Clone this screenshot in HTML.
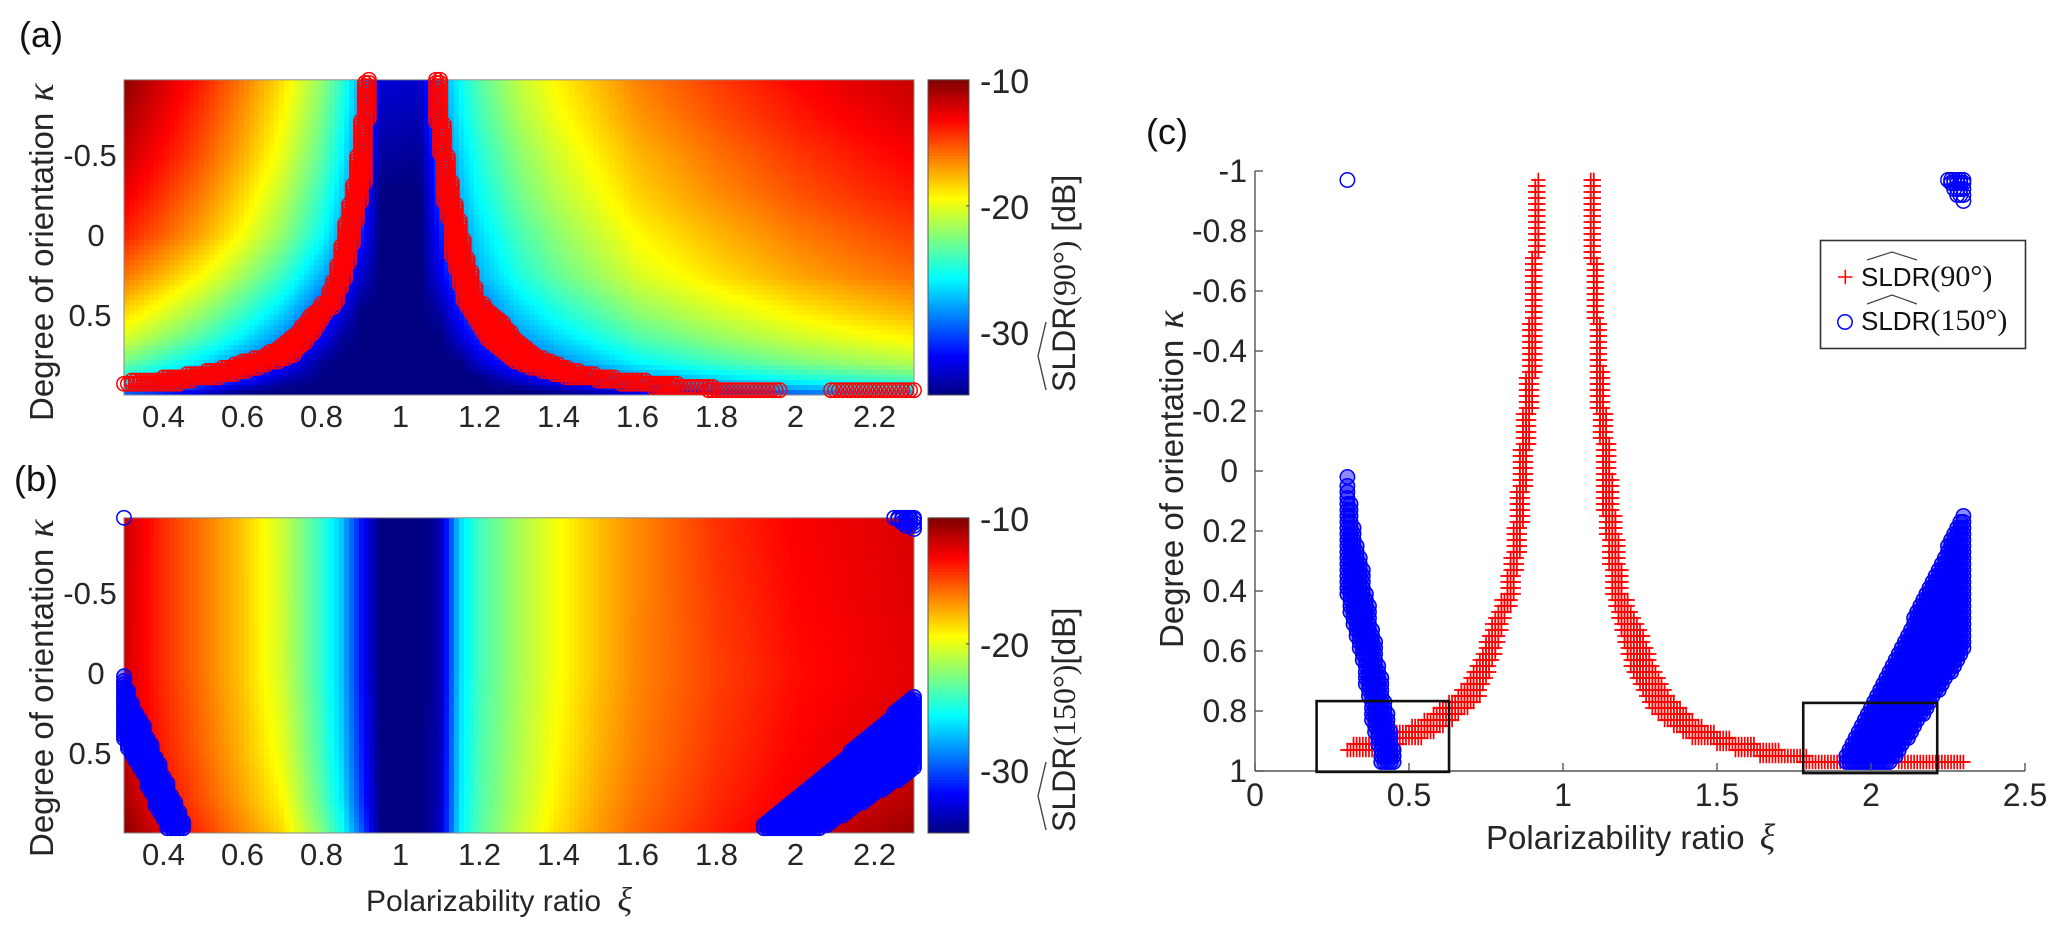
<!DOCTYPE html>
<html>
<head>
<meta charset="utf-8">
<title>SLDR heatmaps and scatter</title>
<style>
html,body{margin:0;padding:0;background:#fff}
svg{display:block}
text{font-family:"Liberation Sans",sans-serif;fill:#262626}
.serif{font-family:"Liberation Serif",serif}
.greek{font-family:"Liberation Serif",serif;font-style:italic}
</style>
</head>
<body>
<svg id="fig" xmlns="http://www.w3.org/2000/svg" width="2067" height="935" viewBox="0 0 2067 935">
  <g id="panelA"></g>
  <g id="panelB"></g>
  <g id="panelC"></g>

  <text x="19" y="47" font-size="36" style="fill:#111">(a)</text>
  <text x="14" y="491" font-size="36" style="fill:#111">(b)</text>
  <text x="1146" y="144" font-size="36" style="fill:#111">(c)</text>

  <text transform="translate(53,421) rotate(-90)" font-size="33">Degree of orientation <tspan class="greek" font-size="38" dx="2">κ</tspan></text>
  <text transform="translate(53,857) rotate(-90)" font-size="33">Degree of orientation <tspan class="greek" font-size="38" dx="2">κ</tspan></text>
  <text x="366" y="911" font-size="30">Polarizability ratio <tspan class="greek" font-size="34" dx="8">ξ</tspan></text>
  <text x="1486" y="849" font-size="33">Polarizability ratio <tspan class="greek" font-size="36" dx="6">ξ</tspan></text>
  <text transform="translate(1183,648) rotate(-90)" font-size="33">Degree of orientation <tspan class="greek" font-size="38" dx="2">κ</tspan></text>

  <g transform="translate(1075,392) rotate(-90)">
    <text font-size="32" x="0" y="0">SLDR<tspan class="serif">(90°)</tspan> [dB]</text>
    <polyline points="2,-29 36,-37 70,-29" fill="none" stroke="#444" stroke-width="1.4"/>
  </g>
  <g transform="translate(1075,832) rotate(-90)">
    <text font-size="32" x="0" y="0">SLDR<tspan class="serif">(150°)</tspan>[dB]</text>
    <polyline points="2,-29 36,-37 70,-29" fill="none" stroke="#444" stroke-width="1.4"/>
  </g>

  <g id="legend">
    <rect x="1820.5" y="240.5" width="205" height="108" fill="#fff" stroke="#333" stroke-width="1.6"/>
    <path d="M1838 277H1852.6M1845.3 269.7V284.3" stroke="#f00" stroke-width="1.5" fill="none"/>
    <circle cx="1845" cy="322" r="7.2" fill="none" stroke="#00f" stroke-width="1.5"/>
    <text x="1861" y="286" font-size="26" style="fill:#111">SLDR<tspan class="serif" font-size="30">(90°)</tspan></text>
    <polyline points="1867,260 1892,252 1917,260" fill="none" stroke="#444" stroke-width="1.2"/>
    <text x="1861" y="330" font-size="26" style="fill:#111">SLDR<tspan class="serif" font-size="30">(150°)</tspan></text>
    <polyline points="1867,304 1892,295 1917,304" fill="none" stroke="#444" stroke-width="1.2"/>
  </g>
</svg>

<script>
// ---------- Tick labels ----------
const heatXTicks = [0.4, 0.6, 0.8, 1, 1.2, 1.4, 1.6, 1.8, 2, 2.2];
const heatYTicks = [-0.5, 0, 0.5];
const colorbarTicks = [-10, -20, -30];
const scatterXTicks = [0, 0.5, 1, 1.5, 2, 2.5];
const scatterYTicks = [-1, -0.8, -0.6, -0.4, -0.2, 0, 0.2, 0.4, 0.6, 0.8, 1];

// ---------- Heatmap (a): SLDR(90) in dB ----------
const heatXi = [0.3, 0.4, 0.5, 0.6, 0.7, 0.8, 0.85, 0.9, 0.95, 1.05, 1.1, 1.15, 1.2, 1.3, 1.4, 1.5, 1.6, 1.8, 2.0, 2.15, 2.3];
const heatAKappa = [-0.97, -0.75, -0.5, -0.25, 0, 0.25, 0.5, 0.65, 0.8, 0.9, 0.97, 1.0];
const heatAValues = [
 [-10.4,-12.1,-13.9,-16.1,-18.6,-22.0,-24.4,-27.6,-32.9,-33.2,-28.3,-25.5,-23.5,-20.9,-19.1,-17.7,-16.3,-14.6,-13.2,-12.4,-11.7],
 [-11.0,-12.7,-14.5,-16.7,-19.2,-22.6,-25.0,-28.2,-33.5,-33.7,-28.8,-26.0,-24.0,-21.4,-19.6,-18.2,-16.8,-15.1,-13.7,-12.9,-12.2],
 [-11.7,-13.4,-15.2,-17.4,-19.9,-23.3,-25.7,-28.9,-34.2,-34.5,-29.6,-26.8,-24.8,-22.2,-20.4,-19.0,-17.6,-15.9,-14.5,-13.7,-13.0],
 [-12.7,-14.4,-16.2,-18.4,-20.9,-24.3,-26.7,-29.9,-35,-35,-30.3,-27.5,-25.5,-22.9,-21.1,-19.7,-18.3,-16.6,-15.2,-14.4,-13.7],
 [-13.8,-15.5,-17.3,-19.5,-22.0,-25.4,-27.8,-31.0,-35,-35,-31.3,-28.5,-26.5,-23.9,-22.1,-20.7,-19.3,-17.6,-16.2,-15.4,-14.7],
 [-15.9,-17.6,-19.4,-21.6,-24.1,-27.5,-29.9,-33.1,-35,-35,-32.3,-29.5,-27.5,-24.9,-23.1,-21.7,-20.3,-18.6,-17.2,-16.4,-15.7],
 [-18.6,-20.3,-22.1,-24.3,-26.8,-30.2,-32.6,-35,-35,-35,-34.3,-31.5,-29.5,-26.9,-25.1,-23.7,-22.3,-20.6,-19.2,-18.4,-17.7],
 [-20.4,-22.1,-23.9,-26.1,-28.6,-32.0,-34.4,-35,-35,-35,-35,-33,-31,-28.4,-26.6,-25.2,-23.8,-22.1,-20.7,-19.9,-19.2],
 [-22.9,-24.6,-26.4,-28.6,-31.1,-34.5,-35,-35,-35,-35,-35,-35,-33,-30.4,-28.6,-27.2,-25.8,-24.1,-22.7,-21.9,-21.2],
 [-25.4,-27.1,-28.9,-31.1,-33.6,-35,-35,-35,-35,-35,-35,-35,-35,-32.9,-31.1,-29.7,-28.3,-26.6,-25.2,-24.4,-23.7],
 [-28.4,-30.1,-31.9,-34.1,-35,-35,-35,-35,-35,-35,-35,-35,-35,-35,-34.1,-32.7,-31.3,-29.6,-28.2,-27.4,-26.7],
 [-30.4,-32.1,-33.9,-35,-35,-35,-35,-35,-35,-35,-35,-35,-35,-35,-35,-34.7,-33.3,-31.6,-30.2,-29.4,-28.7]
];

// ---------- Heatmap (b): SLDR(150) in dB ----------
const heatBKappa = [-0.97, 0, 0.5, 0.8, 1.0];
const heatBValues = [
 [-11.8,-14.2,-16,-18,-20.6,-24.4,-27,-31.5,-35,-35,-34,-26.5,-24,-21.5,-19.5,-17.8,-16.5,-14.3,-13,-12.6,-12.2],
 [-12,-14.2,-16,-18,-20.5,-24.4,-27,-31.5,-35,-35,-34,-26.5,-24,-21.5,-19.5,-17.8,-16.4,-14.7,-13.4,-12.9,-12.5],
 [-11.5,-13.8,-15.6,-17.6,-19.9,-24,-26.6,-31,-35,-35,-33.8,-26.3,-23.8,-21.3,-19.2,-17.5,-16.2,-14.4,-13.1,-12.5,-12.0],
 [-11,-13.2,-15.1,-17.1,-19.2,-23.4,-26,-30.5,-35,-35,-33.7,-26.2,-23.7,-21.1,-18.9,-17.2,-15.9,-14.1,-12.8,-12,-11.3],
 [-10.2,-12.4,-14.4,-16.4,-18.4,-22.5,-25,-29.5,-35,-35,-33.5,-26,-23.5,-20.8,-18.5,-16.9,-15.6,-13.8,-12.4,-11.4,-10.6]
];

// ---------- Marker series: each row is a kappa level and a xi range on the 0.01 xi grid ----------
const redLeftKappa = [
 -0.97,-0.95,-0.93,-0.91,-0.89,-0.87,-0.85,-0.83,-0.81,-0.79,-0.77,-0.75,-0.73,
 -0.71,-0.69,-0.67,-0.65,-0.63,-0.61,-0.59,-0.57,-0.55,-0.53,-0.51,
 -0.49,-0.47,-0.45,-0.43,-0.41,-0.39,-0.37,-0.35,-0.33,
 -0.31,-0.29,-0.27,-0.25,-0.23,-0.21,-0.19,-0.17,-0.15,-0.13,-0.11,-0.09,
 -0.07,-0.05,-0.03,-0.01,0.01,0.03,0.05,0.07,0.09,0.11,0.13,0.15,0.17,
 0.19,0.21,0.23,0.25,0.27,0.29,0.31,0.33,0.35,0.37,0.39,0.41,0.43,0.45,
 0.47,0.49,0.51,0.53,0.55,0.57,0.59,0.61,0.63,0.65,0.67,0.69,0.71,0.73,0.75,0.77,0.79,0.81,0.83,0.85,0.87,0.89,0.91,0.93
];
const redLeftLo = [
 0.92,0.91,0.91,0.91,0.91,0.91,0.91,0.91,0.91,0.91,0.91,0.91,0.91,
 0.90,0.90,0.90,0.90,0.90,0.90,0.90,0.90,0.90,0.90,0.90,
 0.89,0.89,0.89,0.89,0.89,0.89,0.89,0.89,0.89,
 0.88,0.88,0.88,0.88,0.88,0.88,0.87,0.87,0.87,0.87,0.87,0.87,
 0.86,0.86,0.86,0.86,0.86,0.86,0.86,0.85,0.85,0.85,0.85,0.85,0.85,
 0.84,0.84,0.84,0.84,0.84,0.83,0.83,0.83,0.82,0.82,0.82,0.82,0.80,0.80,
 0.79,0.78,0.77,0.77,0.76,0.75,0.75,0.74,0.73,0.72,0.71,0.70,0.69,0.67,0.66,0.63,0.60,0.58,0.55,0.51,0.46,0.40,0.32,0.30
];
const redLeftHi = [
 0.92,0.92,0.92,0.92,0.92,0.92,0.92,0.92,0.92,0.92,0.92,0.92,0.92,
 0.91,0.91,0.91,0.91,0.91,0.91,0.91,0.91,0.91,0.91,0.91,
 0.91,0.91,0.91,0.91,0.91,0.91,0.91,0.91,0.91,
 0.90,0.90,0.90,0.90,0.90,0.90,0.89,0.89,0.89,0.89,0.89,0.89,
 0.88,0.88,0.88,0.88,0.88,0.88,0.88,0.87,0.87,0.87,0.87,0.87,0.87,
 0.86,0.86,0.86,0.86,0.86,0.85,0.85,0.85,0.84,0.84,0.84,0.84,0.83,0.83,
 0.81,0.81,0.80,0.80,0.79,0.79,0.78,0.78,0.77,0.76,0.76,0.75,0.74,0.73,0.73,0.71,0.69,0.66,0.64,0.61,0.58,0.54,0.47,0.44
];
const redRightKappa = [
 -0.97,-0.95,-0.93,-0.91,-0.89,-0.87,-0.85,-0.83,-0.81,-0.79,-0.77,-0.75,-0.73,-0.71,
 -0.69,-0.67,-0.65,-0.63,-0.61,-0.59,-0.57,-0.55,-0.53,-0.51,
 -0.49,-0.47,-0.45,-0.43,-0.41,-0.39,-0.37,-0.35,
 -0.33,-0.31,-0.29,-0.27,-0.25,-0.23,-0.21,
 -0.19,-0.17,-0.15,-0.13,-0.11,
 -0.09,-0.07,-0.05,-0.03,-0.01,0.01,
 0.03,0.05,0.07,0.09,0.11,0.13,
 0.15,0.17,0.19,0.21,
 0.23,0.25,0.27,0.29,0.31,
 0.33,0.35,0.37,0.39,0.41,
 0.43,0.45,0.47,0.49,
 0.51,0.53,0.55,0.57,0.59,0.61,0.63,0.65,0.67,0.69,0.71,0.73,0.75,0.77,0.79,0.81,0.83,0.85,0.87,0.89,0.91,0.93,0.95,0.97,0.97
];
const redRightLo = [
 1.09,1.09,1.09,1.09,1.09,1.09,1.09,1.09,1.09,1.09,1.09,1.09,1.09,1.09,
 1.10,1.10,1.10,1.10,1.10,1.10,1.10,1.10,1.10,1.10,
 1.11,1.11,1.11,1.11,1.11,1.11,1.11,1.11,
 1.11,1.11,1.11,1.11,1.11,1.11,1.11,
 1.12,1.12,1.12,1.12,1.12,
 1.13,1.13,1.13,1.13,1.13,1.13,
 1.13,1.13,1.13,1.13,1.13,1.13,
 1.14,1.14,1.14,1.14,
 1.15,1.15,1.15,1.15,1.15,
 1.16,1.16,1.16,1.16,1.16,
 1.17,1.17,1.18,1.18,
 1.19,1.19,1.20,1.20,1.21,1.21,1.22,1.22,1.23,1.24,1.25,1.26,1.27,1.28,1.29,1.31,1.33,1.36,1.39,1.42,1.50,1.56,1.64,1.78,2.09
];
const redRightHi = [
 1.10,1.10,1.10,1.10,1.10,1.10,1.10,1.10,1.10,1.10,1.10,1.10,1.10,1.10,
 1.11,1.11,1.11,1.11,1.11,1.11,1.11,1.11,1.11,1.11,
 1.12,1.12,1.12,1.12,1.12,1.12,1.12,1.12,
 1.13,1.13,1.13,1.13,1.13,1.13,1.13,
 1.14,1.14,1.14,1.14,1.14,
 1.15,1.15,1.15,1.15,1.15,1.15,
 1.16,1.16,1.16,1.16,1.16,1.16,
 1.17,1.17,1.17,1.17,
 1.18,1.18,1.18,1.18,1.18,
 1.19,1.19,1.19,1.19,1.19,
 1.21,1.21,1.22,1.23,
 1.24,1.25,1.26,1.26,1.27,1.28,1.28,1.29,1.30,1.31,1.32,1.33,1.34,1.36,1.38,1.40,1.42,1.45,1.49,1.54,1.62,1.70,1.79,1.96,2.30
];
const blueCornerKappa = [-0.97, -0.97, -0.96, -0.94, -0.92, -0.90];
const blueCornerLo = [0.30, 2.25, 2.26, 2.27, 2.28, 2.30];
const blueCornerHi = [0.30, 2.30, 2.30, 2.30, 2.30, 2.30];
const blueLeftKappa = [
 0.02,0.05,0.07,0.09,0.11,0.13,0.15,0.17,0.19,0.21,0.23,0.25,0.27,0.29,0.31,0.33,0.35,0.37,0.39,0.41,0.43,0.45,0.47,0.49,
 0.51,0.53,0.55,0.57,0.59,0.61,0.63,0.65,0.67,0.69,0.71,0.73,0.75,0.77,0.79,0.81,0.83,0.85,0.87,0.89,0.91,0.93,0.95,0.97
];
const blueLeftLo = [
 0.30,0.30,0.30,0.30,0.30,0.30,0.30,0.30,0.30,0.30,0.30,0.30,0.30,0.30,0.30,0.30,0.30,0.30,0.30,0.30,0.31,0.31,0.31,0.32,
 0.32,0.33,0.33,0.34,0.34,0.35,0.35,0.36,0.36,0.36,0.36,0.37,0.37,0.38,0.38,0.38,0.38,0.39,0.39,0.40,0.40,0.41,0.41,0.41
];
const blueLeftHi = [
 0.30,0.30,0.30,0.30,0.31,0.31,0.31,0.31,0.32,0.32,0.32,0.33,0.33,0.34,0.34,0.35,0.35,0.35,0.35,0.36,0.36,0.37,0.37,0.37,
 0.37,0.38,0.38,0.39,0.39,0.39,0.39,0.40,0.40,0.41,0.41,0.41,0.41,0.42,0.42,0.43,0.43,0.43,0.44,0.44,0.44,0.45,0.45,0.45
];
const blueRightKappa = [
 0.15,0.17,0.19,0.21,0.23,0.25,0.27,0.29,0.31,0.33,0.35,0.37,0.39,0.41,0.43,0.45,0.47,0.49,0.51,0.53,0.55,0.57,0.59,
 0.61,0.63,0.65,0.67,0.69,0.71,0.73,0.75,0.77,0.79,0.81,0.83,0.85,0.87,0.89,0.91,0.93,0.95,0.97
];
const blueRightLo = [
 2.30,2.29,2.28,2.27,2.26,2.25,2.25,2.24,2.23,2.22,2.21,2.20,2.19,2.18,2.17,2.16,2.15,2.14,2.14,2.13,2.12,2.11,2.10,
 2.09,2.08,2.07,2.06,2.05,2.04,2.03,2.02,2.01,2.00,1.99,1.98,1.97,1.96,1.95,1.94,1.93,1.92,1.92
];
const blueRightHi = [
 2.30,2.30,2.30,2.30,2.30,2.30,2.30,2.30,2.30,2.30,2.30,2.30,2.30,2.30,2.30,2.30,2.30,2.30,2.30,2.30,2.30,2.30,2.30,
 2.29,2.28,2.27,2.26,2.24,2.23,2.22,2.20,2.19,2.18,2.17,2.15,2.14,2.13,2.12,2.10,2.09,2.08,2.06
];

// ---------- Drawing ----------
const NS = 'http://www.w3.org/2000/svg';
const CELL = 5;
const HEAT_LEFT = 124, HEAT_RIGHT = 914, XI_MIN = 0.3, XI_MAX = 2.3;
const KAPPA_TOP = -0.97, KAPPA_BOTTOM = 1.0, KAPPA_PX = 160;
const VMIN = -35, VMAX = -10;

function make(parent, tag, attrs) {
  const el = document.createElementNS(NS, tag);
  for (const k in attrs) el.setAttribute(k, attrs[k]);
  parent.appendChild(el);
  return el;
}
function heatX(xi) { return HEAT_LEFT + (xi - XI_MIN) / (XI_MAX - XI_MIN) * (HEAT_RIGHT - HEAT_LEFT); }
function heatXInv(px) { return XI_MIN + (px - HEAT_LEFT) / (HEAT_RIGHT - HEAT_LEFT) * (XI_MAX - XI_MIN); }
function heatY(kappa, zero) { return zero + kappa * KAPPA_PX; }
function heatYInv(py, zero) { return (py - zero) / KAPPA_PX; }
function scatterX(xi) { return 1255 + xi * 308; }
function scatterY(kappa) { return 471 + kappa * 300; }
function clamp01(v) { return Math.max(0, Math.min(1, v)); }
function jet(t) {
  const r = clamp01(1.5 - Math.abs(4 * t - 3));
  const g = clamp01(1.5 - Math.abs(4 * t - 2));
  const b = clamp01(1.5 - Math.abs(4 * t - 1));
  return 'rgb(' + Math.round(r * 255) + ',' + Math.round(g * 255) + ',' + Math.round(b * 255) + ')';
}
function colorOf(v) { return jet(clamp01((v - VMIN) / (VMAX - VMIN))); }
function segment(axis, v) {
  let i = 0;
  while (i < axis.length - 2 && v > axis[i + 1]) i++;
  return [i, clamp01((v - axis[i]) / (axis[i + 1] - axis[i]))];
}
function sample(xiAxis, kAxis, grid, xi, k) {
  const [c, fx] = segment(xiAxis, xi);
  const [r, fy] = segment(kAxis, k);
  const top = grid[r][c] * (1 - fx) + grid[r][c + 1] * fx;
  const bot = grid[r + 1][c] * (1 - fx) + grid[r + 1][c + 1] * fx;
  return top * (1 - fy) + bot * fy;
}
function drawHeat(parent, zero, kAxis, grid) {
  const g = make(parent, 'g', { 'shape-rendering': 'crispEdges' });
  
  
  const top = heatY(KAPPA_TOP, zero), bottom = heatY(KAPPA_BOTTOM, zero);
  for (let py = top; py < bottom; py += CELL) {
    for (let px = HEAT_LEFT; px < HEAT_RIGHT; px += CELL) {
      const v = sample(heatXi, kAxis, grid, heatXInv(px + CELL / 2), heatYInv(py + CELL / 2, zero));
      const el = make(g, 'rect', {
        x: px, y: py,
        width: Math.min(CELL, HEAT_RIGHT - px),
        height: Math.min(CELL, bottom - py),
        fill: colorOf(v)
      });
      
      
    }
  }
  const frame = make(parent, 'rect', { x: HEAT_LEFT, y: top, width: HEAT_RIGHT - HEAT_LEFT, height: bottom - top, fill: 'none', stroke: '#8a8a8a', 'stroke-width': 1 });
  
  
}
function drawColorbar(parent, zero) {
  const top = heatY(KAPPA_TOP, zero), bottom = heatY(KAPPA_BOTTOM, zero);
  const left = 928, right = 969;
  const perDb = (bottom - top) / (VMAX - VMIN);
  const g = make(parent, 'g', { 'shape-rendering': 'crispEdges' });
  
  
  for (let v = VMIN; v < VMAX; v += 0.25) {
    const y = top + (VMAX - v - 0.25) * perDb;
    const el = make(g, 'rect', { x: left, y: y, width: right - left, height: 0.25 * perDb + 0.6, fill: colorOf(v + 0.125) });
    
    
  }
  const frame = make(parent, 'rect', { x: left, y: top, width: right - left, height: bottom - top, fill: 'none', stroke: '#555', 'stroke-width': 1 });
  
  
  colorbarTicks.forEach(function (t) {
    const y = top + (VMAX - t) * perDb;
    if (t !== VMAX) {
      const tick = make(parent, 'line', { x1: right - 3, x2: right, y1: y, y2: y, stroke: '#444', 'stroke-width': 1 });
      
      
    }
    const label = make(parent, 'text', { x: 980, y: y + 13, 'font-size': 34 });
    
    
    label.textContent = String(t);
  });
}
function drawHeatTicks(parent, zero) {
  const baseY = heatY(KAPPA_BOTTOM, zero) + 32;
  heatXTicks.forEach(function (t) {
    const label = make(parent, 'text', { x: heatX(t), y: baseY, 'font-size': 31, 'text-anchor': 'middle' });
    
    
    label.textContent = String(t);
  });
  heatYTicks.forEach(function (t) {
    const label = make(parent, 'text', { x: t === 0 ? 96 : 90, y: heatY(t, zero) + 11, 'font-size': 31, 'text-anchor': 'middle' });
    
    
    label.textContent = String(t);
  });
}
function plusAt(parent, x, y) {
  const el = make(parent, 'path', { d: 'M' + (x - 7.2) + ' ' + y + 'H' + (x + 7.2) + 'M' + x + ' ' + (y - 7.2) + 'V' + (y + 7.2), stroke: '#f00', 'stroke-width': 1.7, fill: 'none' });
  
  
}
function circleAt(parent, x, y, color, fillOpacity) {
  const el = make(parent, 'circle', { cx: x, cy: y, r: 7.2, fill: fillOpacity ? color : 'none', 'fill-opacity': fillOpacity || 0, stroke: color, 'stroke-width': 1.5 });
  
  
}
function eachPoint(kappas, los, his, fn) {
  kappas.forEach(function (k, i) {
    const steps = Math.round((his[i] - los[i]) / 0.01);
    for (let s = 0; s <= steps; s++) fn(los[i] + s * 0.01, k);
  });
}
function eachRed(fn) {
  eachPoint(redLeftKappa, redLeftLo, redLeftHi, fn);
  eachPoint(redRightKappa, redRightLo, redRightHi, fn);
}
function drawBlue(parent, xFn, yFn) {
  eachPoint(blueCornerKappa, blueCornerLo, blueCornerHi, function (xi, k) { circleAt(parent, xFn(xi), yFn(k), '#00f', 0); });
  eachPoint(blueLeftKappa, blueLeftLo, blueLeftHi, function (xi, k) { circleAt(parent, xFn(xi), yFn(k), '#00f', 0.45); });
  eachPoint(blueRightKappa, blueRightLo, blueRightHi, function (xi, k) { circleAt(parent, xFn(xi), yFn(k), '#00f', 0.45); });
}

// Panel (a)
const panelA = document.getElementById('panelA');
drawHeat(panelA, 235, heatAKappa, heatAValues);
const marksA = make(panelA, 'g', {});


eachRed(function (xi, k) { circleAt(marksA, heatX(xi), heatY(k, 235), '#f00', 0); });
drawHeatTicks(panelA, 235);
drawColorbar(panelA, 235);

// Panel (b)
const panelB = document.getElementById('panelB');
drawHeat(panelB, 673, heatBKappa, heatBValues);
const marksB = make(panelB, 'g', {});


drawBlue(marksB, heatX, function (k) { return heatY(k, 673); });
drawHeatTicks(panelB, 673);
drawColorbar(panelB, 673);

// Panel (c)
const panelC = document.getElementById('panelC');
const redC = make(panelC, 'g', {});


eachRed(function (xi, k) { plusAt(redC, scatterX(xi), scatterY(k)); });
const blueC = make(panelC, 'g', {});


drawBlue(blueC, scatterX, scatterY);

const axisX = make(panelC, 'line', { x1: scatterX(0), x2: scatterX(2.5), y1: scatterY(1), y2: scatterY(1), stroke: '#555', 'stroke-width': 1.4 });


const axisY = make(panelC, 'line', { x1: scatterX(0), x2: scatterX(0), y1: scatterY(-1), y2: scatterY(1), stroke: '#555', 'stroke-width': 1.4 });


scatterXTicks.forEach(function (t) {
  const tick = make(panelC, 'line', { x1: scatterX(t), x2: scatterX(t), y1: scatterY(1), y2: scatterY(1) - 8, stroke: '#555', 'stroke-width': 1.4 });
  
  
  const label = make(panelC, 'text', { x: scatterX(t), y: 806, 'font-size': 32, 'text-anchor': 'middle' });
  
  
  label.textContent = String(t);
});
scatterYTicks.forEach(function (t) {
  const tick = make(panelC, 'line', { x1: scatterX(0), x2: scatterX(0) + 8, y1: scatterY(t), y2: scatterY(t), stroke: '#555', 'stroke-width': 1.4 });
  
  
  const label = make(panelC, 'text', { x: t === 0 ? 1238 : 1247, y: scatterY(t) + 11, 'font-size': 32, 'text-anchor': 'end' });
  
  
  label.textContent = String(t);
});
const boxLeft = make(panelC, 'rect', { x: scatterX(0.2), y: scatterY(0.767), width: scatterX(0.63) - scatterX(0.2), height: scatterY(1.003) - scatterY(0.767), fill: 'none', stroke: '#111', 'stroke-width': 2.6 });


const boxRight = make(panelC, 'rect', { x: scatterX(1.78), y: scatterY(0.773), width: scatterX(2.215) - scatterX(1.78), height: scatterY(1.007) - scatterY(0.773), fill: 'none', stroke: '#111', 'stroke-width': 2.6 });


</script>
</body>
</html>
